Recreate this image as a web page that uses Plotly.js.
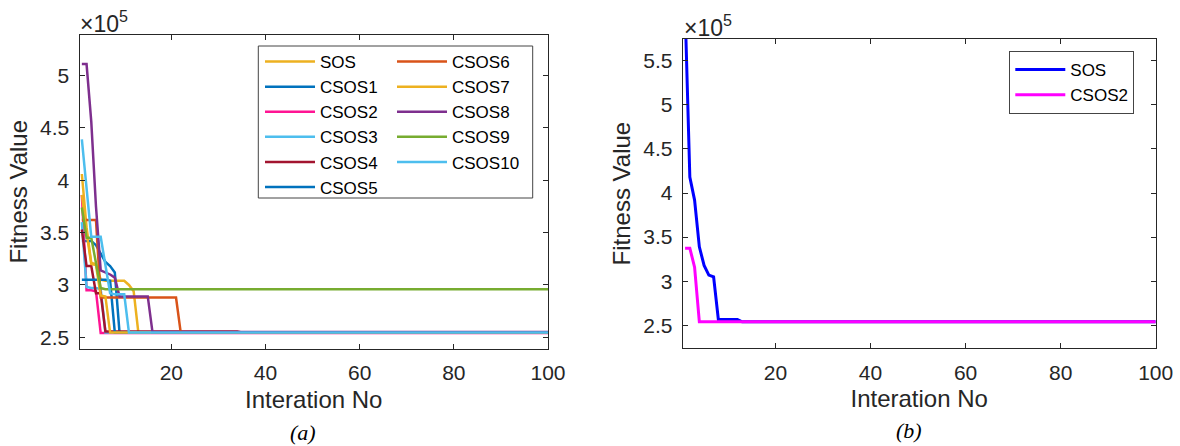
<!DOCTYPE html>
<html>
<head>
<meta charset="utf-8">
<script src="https://cdn.plot.ly/plotly-3.0.1.min.js"></script>
<style>html,body{margin:0;padding:0;background:#fff;}#chart{width:1180px;height:446px;}</style>
</head>
<body>
<div id="chart"></div>
<script>
// ---- Data (fitness values in units of 1e5), points where each curve changes ----
// Panel (a)
const sosX    = [1,2,3,4,5,6,10,11,12,13,100];
const sosY    = [4.06,3.55,3.21,3.20,3.05,3.04,3.04,3.00,2.94,2.545,2.545];
const csos1X  = [1,2,3,4,5,6,7,8,9,100];
const csos1Y  = [3.42,3.42,3.42,3.38,3.30,3.22,3.18,3.12,2.545,2.545];
const csos2X  = [1,2,3,4,5,100];
const csos2Y  = [3.86,2.95,2.95,2.94,2.54,2.54];
const csos3X  = [1,2,3,4,5,6,100];
const csos3Y  = [3.60,2.98,2.97,2.97,2.96,2.545,2.545];
const csos4X  = [1,2,3,4,5,6,34,35,100];
const csos4Y  = [3.53,3.18,3.18,2.92,2.92,2.555,2.555,2.545,2.545];
const csos5X  = [1,2,3,4,5,6,7,8,100];
const csos5Y  = [3.05,3.05,3.05,3.05,3.05,3.05,3.04,2.545,2.545];
const csos6X  = [1,2,3,4,5,21,22,100];
const csos6Y  = [3.62,3.62,3.62,3.62,2.88,2.88,2.545,2.545];
const csos7X  = [1,2,3,4,5,6,7,100];
const csos7Y  = [3.86,3.50,3.20,3.19,2.90,2.89,2.545,2.545];
const csos8X  = [1,2,3,4,5,6,7,8,9,15,16,100];
const csos8Y  = [5.11,5.11,4.56,3.75,3.14,3.12,3.10,3.07,2.89,2.89,2.55,2.55];
const csos9X  = [1,2,3,4,5,6,100];
const csos9Y  = [3.74,3.45,3.45,3.20,2.97,2.96,2.96];
const csos10X = [1,2,3,4,5,6,7,8,9,10,11,100];
const csos10Y = [4.39,3.92,3.46,3.46,3.46,3.19,2.92,2.91,2.91,2.91,2.545,2.545];
// Panel (b)
const bSosX   = [1,2,3,4,5,6,7,8,12,13,100];
const bSosY   = [6.10,4.18,3.92,3.39,3.18,3.07,3.05,2.567,2.567,2.54,2.54];
const bCsos2X = [1,2,3,4,100];
const bCsos2Y = [3.375,3.375,3.16,2.54,2.54];

const namesA = ['SOS','CSOS1','CSOS2','CSOS3','CSOS4','CSOS5','CSOS6','CSOS7','CSOS8','CSOS9','CSOS10'];
const xsA = [sosX,csos1X,csos2X,csos3X,csos4X,csos5X,csos6X,csos7X,csos8X,csos9X,csos10X];
const ysA = [sosY,csos1Y,csos2Y,csos3Y,csos4Y,csos5Y,csos6Y,csos7Y,csos8Y,csos9Y,csos10Y];
const colorsA = ['#EDB120','#0072BD','#FF1493','#4DBEEE','#A2142F','#0072BD','#D95319','#EDB120','#7E2F8E','#77AC30','#4DBEEE'];
const xTicks = [20,40,60,80,100];
const yTicksA = [2.5,3,3.5,4,4.5,5];
const yTicksB = [2.5,3,3.5,4,4.5,5,5.5];

const W = 1180, H = 446;
const fx = v => v / W;
const fy = v => 1 - v / H;

const traces = [];
namesA.forEach((n, i) => {
  traces.push({
    x: xsA[i], y: ysA[i], name: n, type: 'scatter', mode: 'lines',
    line: {color: colorsA[i], width: 2.5},
    xaxis: 'x', yaxis: 'y',
    legend: i < 6 ? 'legend' : 'legend3'
  });
});
traces.push({x: bSosX, y: bSosY, name: 'SOS', type: 'scatter', mode: 'lines',
  line: {color: '#0000FF', width: 3}, xaxis: 'x2', yaxis: 'y2', legend: 'legend2'});
traces.push({x: bCsos2X, y: bCsos2Y, name: 'CSOS2', type: 'scatter', mode: 'lines',
  line: {color: '#FF00FF', width: 3}, xaxis: 'x2', yaxis: 'y2', legend: 'legend2'});

const axC = '#262626';
function xax(dom, anchor) {
  return {domain: dom, anchor: anchor, range: [0.5, 100], tickvals: xTicks,
    ticktext: xTicks.map(String), ticks: 'inside', ticklen: 5, tickwidth: 1, tickcolor: axC,
    showline: true, linecolor: axC, linewidth: 1, mirror: 'ticks', showgrid: false, zeroline: false,
    tickfont: {size: 21, color: axC}, ticklabelstandoff: 5,
    title: {text: 'Interation No', font: {size: 24, color: axC}, standoff: 7}};
}
function yax(dom, anchor, rng, tv) {
  return {domain: dom, anchor: anchor, range: rng, tickvals: tv, ticktext: tv.map(String),
    ticks: 'inside', ticklen: 5, tickwidth: 1, tickcolor: axC,
    showline: true, linecolor: axC, linewidth: 1, mirror: 'ticks', showgrid: false, zeroline: false,
    tickfont: {size: 21, color: axC}, ticklabelstandoff: 5,
    title: {text: 'Fitness Value', font: {size: 24, color: axC}, standoff: 5}};
}
const legFont = {size: 17, color: '#000', family: 'Liberation Sans, Arial, sans-serif'};
const layout = {
  width: W, height: H, margin: {l: 0, r: 0, t: 0, b: 0},
  paper_bgcolor: '#fff', plot_bgcolor: '#fff',
  font: {family: 'Liberation Sans, Arial, sans-serif', color: axC, size: 21},
  showlegend: true,
  xaxis: xax([fx(79.5), fx(548)], 'y'),
  yaxis: yax([fy(349), fy(34.5)], 'x', [2.388, 5.393], yTicksA),
  xaxis2: xax([fx(682.7), fx(1155.7)], 'y2'),
  yaxis2: yax([fy(348.3), fy(39)], 'x2', [2.24, 5.746], yTicksB),
  legend: {x: fx(260), y: fy(44), xanchor: 'left', yanchor: 'top', bgcolor: 'rgba(0,0,0,0)',
    borderwidth: 0, font: legFont, itemwidth: 50, tracegroupgap: 0},
  legend3: {x: fx(392), y: fy(44), xanchor: 'left', yanchor: 'top', bgcolor: 'rgba(0,0,0,0)',
    borderwidth: 0, font: legFont, itemwidth: 50, tracegroupgap: 0},
  legend2: {x: fx(1009.3), y: fy(51), xanchor: 'left', yanchor: 'top', bgcolor: '#fff',
    bordercolor: '#444', borderwidth: 1, font: legFont, itemwidth: 50, tracegroupgap: 0},
  shapes: [
    {type: 'rect', xref: 'paper', yref: 'paper', x0: fx(258.3), x1: fx(532.7), y0: fy(46), y1: fy(198),
      line: {color: '#444', width: 1}, fillcolor: '#fff', layer: 'below'}
  ],
  annotations: [
    {xref: 'paper', yref: 'paper', x: fx(78), y: fy(39), xanchor: 'left', yanchor: 'bottom',
      text: '×10<sup>5</sup>', showarrow: false, font: {size: 23, color: axC}},
    {xref: 'paper', yref: 'paper', x: fx(682), y: fy(43), xanchor: 'left', yanchor: 'bottom',
      text: '×10<sup>5</sup>', showarrow: false, font: {size: 23, color: axC}},
    {xref: 'paper', yref: 'paper', x: fx(303), y: fy(446), xanchor: 'center', yanchor: 'bottom', borderpad: 0,
      text: '<i>(a)</i>', showarrow: false, font: {size: 22, color: '#000', family: 'Liberation Serif, Times New Roman, serif'}},
    {xref: 'paper', yref: 'paper', x: fx(909), y: fy(444), xanchor: 'center', yanchor: 'bottom', borderpad: 0,
      text: '<i>(b)</i>', showarrow: false, font: {size: 22, color: '#000', family: 'Liberation Serif, Times New Roman, serif'}}
  ]
};
Plotly.newPlot('chart', traces, layout, {displayModeBar: false, staticPlot: true});
</script>
</body>
</html>
